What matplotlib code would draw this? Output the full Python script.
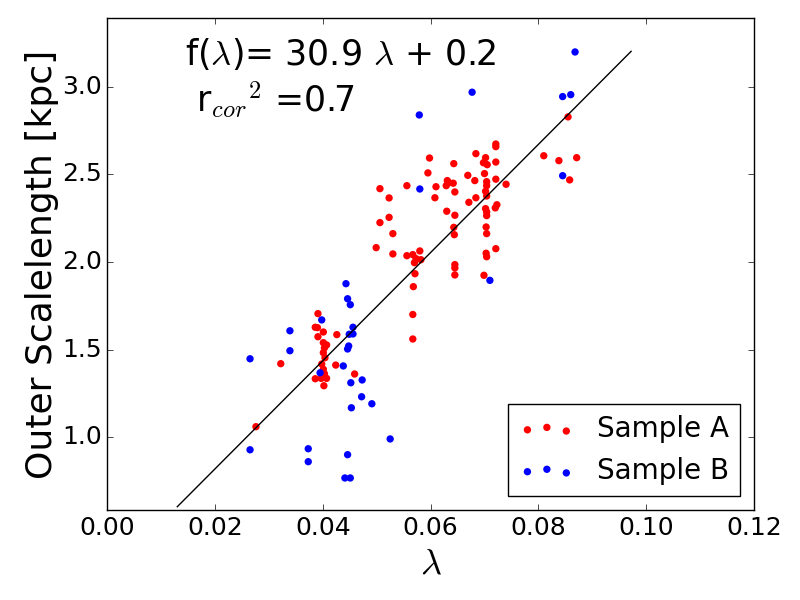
"""Outer scalelength vs lambda scatter with linear fit."""

import matplotlib

matplotlib.use("Agg")
import matplotlib.pyplot as plt

plt.style.use("classic")
plt.rcParams["mathtext.fontset"] = "cm"

# Sample A (red)
lam_a = [0.0391, 0.0386, 0.0390, 0.0401, 0.0426, 0.0391, 0.0401, 0.0407, 0.0403,
         0.0401, 0.0404, 0.0322, 0.0398, 0.0424, 0.0401, 0.0403, 0.0459, 0.0386,
         0.0397, 0.0407, 0.0402, 0.0276,
         0.0721, 0.0721, 0.0598, 0.0684, 0.0702, 0.0698, 0.0705, 0.0721, 0.0643,
         0.0595, 0.0669, 0.0700, 0.0682, 0.0631, 0.0634, 0.0642, 0.0629, 0.0704,
         0.0704, 0.0721, 0.0740, 0.0556, 0.0506, 0.0610, 0.0645, 0.0702, 0.0704,
         0.0523, 0.0608, 0.0684, 0.0671, 0.0723, 0.0720, 0.0702, 0.0704, 0.0630,
         0.0645, 0.0523, 0.0506, 0.0704, 0.0643, 0.0530, 0.0703, 0.0704, 0.0644,
         0.0721, 0.0499, 0.0530, 0.0556, 0.0567, 0.0580, 0.0573, 0.0582, 0.0570,
         0.0703, 0.0704, 0.0645, 0.0645, 0.0645, 0.0571, 0.0699, 0.0568, 0.0567,
         0.0567,
         0.0855, 0.0810, 0.0838, 0.0871, 0.0858]
scl_a = [1.705, 1.627, 1.625, 1.600, 1.585, 1.573, 1.539, 1.526, 1.509,
         1.482, 1.453, 1.419, 1.417, 1.411, 1.387, 1.362, 1.360, 1.333,
         1.335, 1.335, 1.293, 1.059,
         2.674, 2.659, 2.594, 2.619, 2.596, 2.567, 2.556, 2.571, 2.562,
         2.509, 2.495, 2.505, 2.465, 2.465, 2.453, 2.450, 2.436, 2.459,
         2.436, 2.473, 2.444, 2.436, 2.419, 2.430, 2.400, 2.404, 2.377,
         2.366, 2.367, 2.367, 2.341, 2.327, 2.309, 2.305, 2.286, 2.290,
         2.267, 2.255, 2.225, 2.265, 2.198, 2.162, 2.200, 2.162, 2.156,
         2.076, 2.082, 2.046, 2.036, 2.042, 2.063, 2.019, 2.013, 1.996,
         2.050, 2.030, 1.985, 1.966, 1.926, 1.933, 1.924, 1.859, 1.700,
         1.560,
         2.829, 2.607, 2.579, 2.596, 2.469]

# Sample B (blue)
lam_b = [0.0443, 0.0446, 0.0451, 0.0398, 0.0339, 0.0456, 0.0449, 0.0456, 0.0448,
         0.0446, 0.0339, 0.0265, 0.0438, 0.0395, 0.0473, 0.0452, 0.0472, 0.0491,
         0.0453, 0.0265, 0.0373, 0.0373, 0.0446, 0.0441, 0.0451, 0.0525,
         0.0580, 0.0710, 0.0579, 0.0677, 0.0868, 0.0845, 0.0860, 0.0845]
scl_b = [1.876, 1.790, 1.756, 1.669, 1.607, 1.627, 1.587, 1.589, 1.520,
         1.503, 1.493, 1.447, 1.406, 1.367, 1.326, 1.310, 1.230, 1.190,
         1.167, 0.927, 0.933, 0.859, 0.899, 0.766, 0.766, 0.989,
         2.417, 1.895, 2.840, 2.970, 3.200, 2.945, 2.956, 2.493]

# linear fit f(lambda) = 30.9 lambda + 0.2
slope, intercept = 30.9, 0.2
fit_x = [0.013, 0.0972]
fit_y = [slope * x + intercept for x in fit_x]

fig = plt.figure(figsize=(8, 6), dpi=100, facecolor="white")
ax = fig.add_axes([0.134, 0.15, 0.8085, 0.82])

ax.plot(fit_x, fit_y, color="black", lw=1)
ax.scatter(lam_a, scl_a, s=28, c="red", edgecolors="none", label="Sample A")
ax.scatter(lam_b, scl_b, s=28, c="blue", edgecolors="none", label="Sample B")

ax.set_xlim(0.0, 0.12)
ax.set_ylim(0.583, 3.394)
ax.set_xticks([0.00, 0.02, 0.04, 0.06, 0.08, 0.10, 0.12])
ax.set_yticks([1.0, 1.5, 2.0, 2.5, 3.0])
ax.tick_params(labelsize=18)
ax.set_xlabel(r"$\lambda$", fontsize=26)
ax.set_ylabel("Outer Scalelength [kpc]", fontsize=26, labelpad=2)

ax.text(0.1206, 0.904, r"f($\lambda$)= 30.9 $\lambda$ + 0.2", transform=ax.transAxes,
        fontsize=25, va="baseline")
ax.text(0.137, 0.809, r"r$_{cor}$$^2$ =0.7", transform=ax.transAxes,
        fontsize=25, va="baseline")

ax.legend(loc="lower right", fontsize=20, scatterpoints=3, borderaxespad=0.5)

fig.savefig("out.png", dpi=100, facecolor="white")
